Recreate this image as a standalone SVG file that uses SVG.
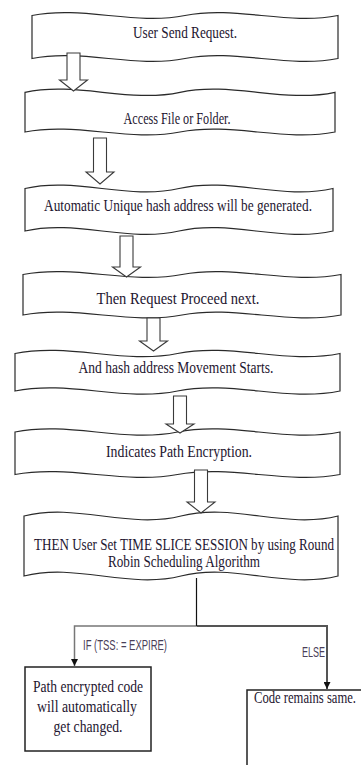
<svg xmlns="http://www.w3.org/2000/svg" width="361" height="765" viewBox="0 0 361 765">
<defs>
<style>
.box{fill:#fff;stroke:#2a2a2a;stroke-width:1.2}
.arr{fill:#fff;stroke:#3a3a3a;stroke-width:1.1}
.t{font-family:"Liberation Serif","Times New Roman",serif;font-size:13.3px;fill:#1e1630;text-anchor:middle}
.ts{font-family:"Liberation Serif","Times New Roman",serif;font-size:13px;fill:#1e1630}
.lb{font-family:"Liberation Sans Narrow","Liberation Sans",Arial,sans-serif;font-size:14px;fill:#4a4058}
.rect{fill:#fff;stroke:#222;stroke-width:1.5}
.ln{fill:none}
</style>
<marker id="ah" viewBox="0 0 8 8" refX="8" refY="4" markerWidth="7" markerHeight="7" markerUnits="userSpaceOnUse" orient="auto">
<path d="M0,0 L8,4 L0,8 z" fill="#111"/>
</marker>
</defs>
<rect width="361" height="765" fill="#fff"/>

<g id="n1">
<path class="box" d="M32,15.5 C83,5.5 134,25.5 185,15.5 C236,5.5 287,25.5 338,15.5 L338,58.5 C287,68.5 236,48.5 185,58.5 C134,68.5 83,48.5 32,58.5 Z"/>
<text class="t" transform="translate(185,38) scale(1,1.22)" textLength="104" lengthAdjust="spacingAndGlyphs">User Send Request.</text>
</g>
<g id="n2">
<path class="box" d="M25,92.3 C76.7,81.3 128.3,103.3 180,92.3 C231.7,81.3 283.3,103.3 335,92.3 L335,132 C283.3,142 231.7,122 180,132 C128.3,142 76.7,122 25,132 Z"/>
<text class="t" transform="translate(177,124) scale(1,1.22)" textLength="107" lengthAdjust="spacingAndGlyphs">Access File or Folder.</text>
</g>
<g id="n3">
<path class="box" d="M25,188.5 C76.3,176.8 127.7,200.2 179,188.5 C230.3,176.8 281.7,200.2 333,188.5 L333,231 C281.7,242.7 230.3,219.3 179,231 C127.7,242.7 76.3,219.3 25,231 Z"/>
<text class="t" transform="translate(178,211) scale(1,1.22)" textLength="268" lengthAdjust="spacingAndGlyphs">Automatic Unique hash address will be generated.</text>
</g>
<g id="n4">
<path class="box" d="M23,274.5 C76,264.5 129,284.5 182,274.5 C235,264.5 288,284.5 341,274.5 L341,315 C288,325 235,305 182,315 C129,325 76,305 23,315 Z"/>
<text class="t" transform="translate(178,304) scale(1,1.22)" textLength="163" lengthAdjust="spacingAndGlyphs">Then Request Proceed next.</text>
</g>
<g id="n5">
<path class="box" d="M15,353.5 C69.2,342.5 123.3,364.5 177.5,353.5 C231.7,342.5 285.8,364.5 340,353.5 L340,391 C285.8,402 231.7,380 177.5,391 C123.3,402 69.2,380 15,391 Z"/>
<text class="t" transform="translate(176,373) scale(1,1.22)" textLength="195" lengthAdjust="spacingAndGlyphs">And hash address Movement Starts.</text>
</g>
<g id="n6">
<path class="box" d="M15,432 C69.2,421 123.3,443 177.5,432 C231.7,421 285.8,443 340,432 L340,474.5 C285.8,484.5 231.7,464.5 177.5,474.5 C123.3,484.5 69.2,464.5 15,474.5 Z"/>
<text class="t" transform="translate(179,457) scale(1,1.22)" textLength="146" lengthAdjust="spacingAndGlyphs">Indicates Path Encryption.</text>
</g>
<g id="n7">
<path class="box" d="M24,516 C76.3,502.7 128.7,529.3 181,516 C233.3,502.7 285.7,529.3 338,516 L338,576 C285.7,589.3 233.3,562.7 181,576 C128.7,589.3 76.3,562.7 24,576 Z"/>
<text class="t" transform="translate(184,550) scale(1,1.22)" textLength="300" lengthAdjust="spacingAndGlyphs">THEN User Set TIME SLICE SESSION by using Round</text>
<text class="t" transform="translate(184,567) scale(1,1.22)" textLength="152" lengthAdjust="spacingAndGlyphs">Robin Scheduling Algorithm</text>
</g>

<g id="block-arrows">
<polygon class="arr" points="67,53 80,53 80,80 87.5,80 73.5,91 59.5,80 67,80"/>
<polygon class="arr" points="93.5,138 106.5,138 106.5,172 114,172 100,184 86,172 93.5,172"/>
<polygon class="arr" points="120,236 133,236 133,267 140.5,267 126.5,277 112.5,267 120,267"/>
<polygon class="arr" points="147,318 160,318 160,341 167.5,341 153.5,351 139.5,341 147,341"/>
<polygon class="arr" points="173.5,396 186.5,396 186.5,424 194,424 180,433 166,424 173.5,424"/>
<polygon class="arr" points="194.5,470 207.5,470 207.5,502 215,502 201,513 187,502 194.5,502"/>
</g>

<g id="connectors">
<path class="ln" d="M197,626 H74.5 V666" stroke="#777" stroke-width="1.5" marker-end="url(#ah)"/>
<path class="ln" d="M197,626 H327 V689" stroke="#555" stroke-width="2" marker-end="url(#ah)"/>
<path class="ln" d="M196.5,578 V626" stroke="#111" stroke-width="1.2"/>
<text class="lb" x="83" y="650" textLength="84" lengthAdjust="spacingAndGlyphs">IF (TSS: = EXPIRE)</text>
<text class="lb" x="302" y="657" textLength="23" lengthAdjust="spacingAndGlyphs">ELSE</text>
</g>

<g id="n8">
<rect class="rect" x="25" y="667" width="126" height="84"/>
<text class="t" transform="translate(88,692) scale(1,1.22)" textLength="110" lengthAdjust="spacingAndGlyphs">Path encrypted code</text>
<text class="t" transform="translate(87,712) scale(1,1.22)" textLength="100" lengthAdjust="spacingAndGlyphs">will automatically</text>
<text class="t" transform="translate(88,732) scale(1,1.22)" textLength="69" lengthAdjust="spacingAndGlyphs">get changed.</text>
</g>
<g id="n9">
<rect class="rect" x="247" y="690" width="130" height="100"/>
<text class="ts" transform="translate(254,703) scale(1,1.24)" textLength="102" lengthAdjust="spacingAndGlyphs">Code remains same.</text>
</g>
</svg>
